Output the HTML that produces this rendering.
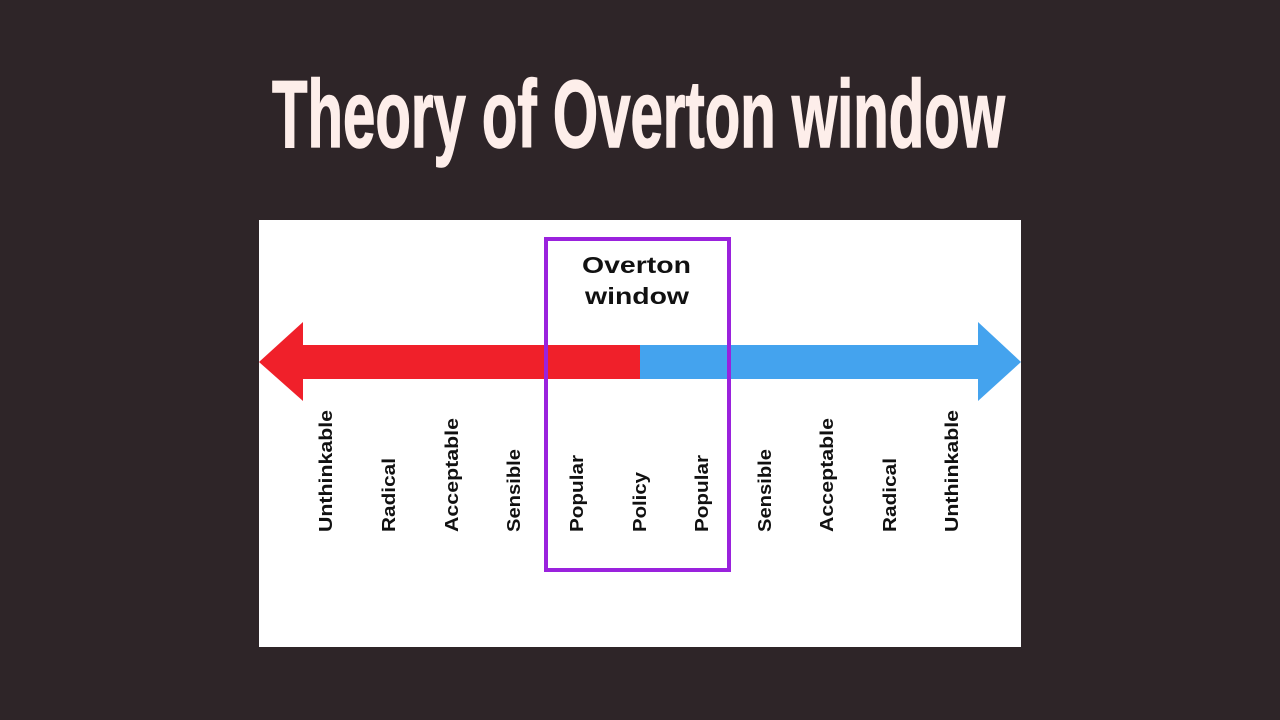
<!DOCTYPE html>
<html><head><meta charset="utf-8"><style>
html,body{margin:0;padding:0;background:#2e2528;width:1280px;height:720px;overflow:hidden}
</style></head><body>
<svg width="1280" height="720" viewBox="0 0 1280 720" xmlns="http://www.w3.org/2000/svg">
<rect width="1280" height="720" fill="#2e2528"/>
<text x="272" y="147" textLength="733" lengthAdjust="spacingAndGlyphs" font-family="Liberation Sans Narrow, Liberation Sans, sans-serif" font-weight="bold" font-size="96" fill="#fdeeea" stroke="#fdeeea" stroke-width="1.5">Theory of Overton window</text>
<rect x="259" y="220" width="762" height="427" fill="#ffffff"/>
<rect x="300" y="345" width="341" height="34" fill="#f0202a"/>
<polygon points="259,362 303,322 303,401" fill="#f0202a"/>
<rect x="640" y="345" width="340" height="34" fill="#44a3ee"/>
<polygon points="1021,362 978,322 978,401" fill="#44a3ee"/>
<rect x="546" y="239" width="183" height="331" fill="none" stroke="#9a22dd" stroke-width="4"/>
<g font-family="Liberation Sans, sans-serif" font-weight="bold" fill="#111" font-size="23">
<text x="582" y="273" textLength="109" lengthAdjust="spacingAndGlyphs">Overton</text>
<text x="585" y="304" textLength="104" lengthAdjust="spacingAndGlyphs">window</text>
</g>
<g font-family="Liberation Sans, sans-serif" font-weight="bold" fill="#111" font-size="18" lengthAdjust="spacingAndGlyphs">
<text transform="translate(332,532) rotate(-90)" textLength="122" lengthAdjust="spacingAndGlyphs">Unthinkable</text>
<text transform="translate(395,532) rotate(-90)" textLength="74" lengthAdjust="spacingAndGlyphs">Radical</text>
<text transform="translate(458,532) rotate(-90)" textLength="114" lengthAdjust="spacingAndGlyphs">Acceptable</text>
<text transform="translate(520,532) rotate(-90)" textLength="83" lengthAdjust="spacingAndGlyphs">Sensible</text>
<text transform="translate(583,532) rotate(-90)" textLength="77" lengthAdjust="spacingAndGlyphs">Popular</text>
<text transform="translate(646,532) rotate(-90)" textLength="60" lengthAdjust="spacingAndGlyphs">Policy</text>
<text transform="translate(708,532) rotate(-90)" textLength="77" lengthAdjust="spacingAndGlyphs">Popular</text>
<text transform="translate(771,532) rotate(-90)" textLength="83" lengthAdjust="spacingAndGlyphs">Sensible</text>
<text transform="translate(833,532) rotate(-90)" textLength="114" lengthAdjust="spacingAndGlyphs">Acceptable</text>
<text transform="translate(896,532) rotate(-90)" textLength="74" lengthAdjust="spacingAndGlyphs">Radical</text>
<text transform="translate(958,532) rotate(-90)" textLength="122" lengthAdjust="spacingAndGlyphs">Unthinkable</text>
</g>
</svg>
</body></html>
